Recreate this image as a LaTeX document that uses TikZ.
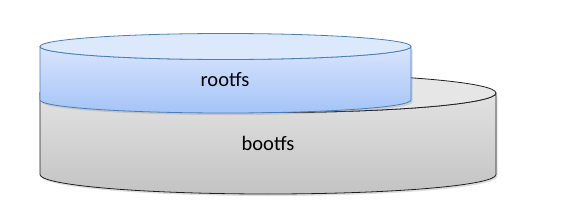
\documentclass[tikz,border=0pt]{standalone}
\usepackage{fontspec}
\setmainfont{Carlito}
\usetikzlibrary{shadows}
\definecolor{rimblue}{HTML}{4A7EBB}
\definecolor{topblue}{HTML}{DCE8FC}
\definecolor{hiblue}{HTML}{D8E5FD}
\definecolor{loblue}{HTML}{A5C3F8}
\definecolor{rimgray}{HTML}{1E1E1E}
\definecolor{topgray}{HTML}{E6E6E6}
\definecolor{higray}{HTML}{E2E2E2}
\definecolor{logray}{HTML}{C3C3C3}

\begin{document}
\begin{tikzpicture}[x=1pt,y=1pt,
 lbl/.style={font=\fontsize{20.5}{24}\selectfont,text=black},
 soft/.style={drop shadow={shadow xshift=1.5pt,shadow yshift=-2pt,opacity=.25}},
 line join=round]
 \useasboundingbox (0,0) rectangle (564,223);
 % bootfs cylinder
 \path[soft,draw=rimgray,thick,top color=higray,bottom color=logray]
  (40,130) -- (40,48.5) arc[start angle=180,end angle=360,x radius=228,y radius=19.5]
  -- (496,130) arc[start angle=0,end angle=-180,x radius=228,y radius=19.5] -- cycle;
 \draw[rimgray,thick,fill=topgray] (268,130) ellipse[x radius=228,y radius=19.5];
 % rootfs cylinder
 \path[soft,draw=rimblue,thick,top color=hiblue,bottom color=loblue]
  (40,176.5) -- (40,123) arc[start angle=180,end angle=360,x radius=185.5,y radius=13]
  -- (411,176.5) arc[start angle=0,end angle=-180,x radius=185.5,y radius=13] -- cycle;
 \draw[rimblue,thick,fill=topblue] (225.5,176.5) ellipse[x radius=185.5,y radius=13];
 \node[lbl] (rootfs) at (225,143) {rootfs};
 \node[lbl] (bootfs) at (268,80) {bootfs};
\end{tikzpicture}
\end{document}
